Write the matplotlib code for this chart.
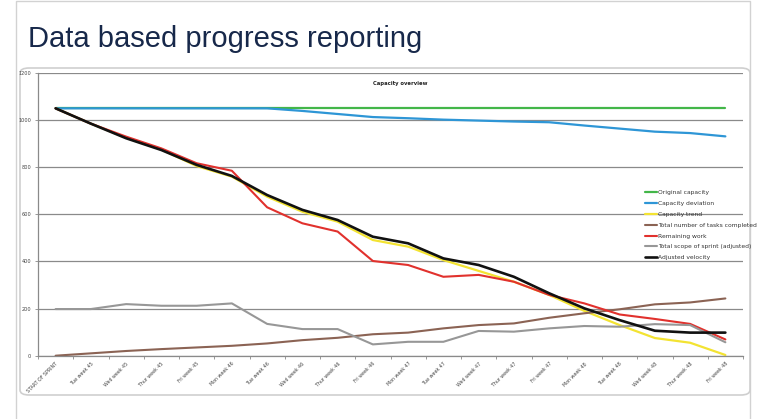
import matplotlib
matplotlib.use("Agg")
import matplotlib.pyplot as plt
from matplotlib.patches import FancyBboxPatch, Rectangle

categories = ["START OF SPRINT", "Tue week 45", "Wed week 45", "Thur week 45", "Fri week 45",
              "Mon week 46", "Tue week 46", "Wed week 46", "Thur week 46", "Fri week 46",
              "Mon week 47", "Tue week 47", "Wed week 47", "Thur week 47", "Fri week 47",
              "Mon week 48", "Tue week 48", "Wed week 48", "Thur week 48", "Fri week 48"]

original_capacity = [1050] * 20
capacity_deviation = [1050, 1050, 1050, 1050, 1050, 1050, 1050, 1039, 1026, 1013,
                      1008, 1002, 998, 994, 991, 977, 964, 951, 945, 931]
capacity_trend = [1050, 985, 925, 875, 805, 760, 675, 611, 569, 491,
                  463, 406, 360, 314, 258, 190, 130, 75, 55, 3]
tasks_completed = [0, 10, 20, 28, 35, 42, 52, 66, 76, 91,
                   98, 116, 130, 137, 161, 180, 197, 218, 226, 243]
remaining_work = [1050, 985, 930, 880, 817, 785, 630, 562, 527, 402,
                  385, 335, 343, 314, 258, 222, 175, 156, 135, 69]
total_scope = [198, 198, 219, 212, 212, 222, 135, 113, 113, 48,
               59, 59, 105, 102, 116, 126, 123, 134, 130, 57]
adjusted_velocity = [1050, 985, 923, 873, 810, 763, 682, 619, 576, 505,
                     477, 413, 385, 335, 265, 201, 151, 106, 98, 98]

series = [
    ("Original capacity", original_capacity, "#43b649", 1.6),
    ("Capacity deviation", capacity_deviation, "#2e96d6", 1.6),
    ("Capacity trend", capacity_trend, "#f3e332", 1.6),
    ("Total number of tasks completed", tasks_completed, "#8b6354", 1.5),
    ("Remaining work", remaining_work, "#e1312d", 1.5),
    ("Total scope of sprint (adjusted)", total_scope, "#979797", 1.5),
    ("Adjusted velocity", adjusted_velocity, "#111111", 1.9),
]

W, H = 769, 419
fig = plt.figure(figsize=(W / 100, H / 100), dpi=100)
fig.patch.set_facecolor("white")

# slide frame lines
frame = Rectangle((16 / W, -0.01), (750 - 16) / W, (H - 1) / H + 0.01,
                  transform=fig.transFigure, fill=False,
                  edgecolor="#d2d2d2", linewidth=1.0, zorder=-2)
fig.add_artist(frame)
# chart box
box = FancyBboxPatch((20 / W, 1 - 395 / H), (750 - 20) / W, (395 - 68) / H,
                     boxstyle="round,pad=0,rounding_size=0.012",
                     transform=fig.transFigure, facecolor="white",
                     edgecolor="#cfcfcf", linewidth=1.2, zorder=-1)
fig.add_artist(box)

fig.text(28 / W, 1 - 47 / H, "Data based progress reporting", fontsize=21,
         family="Liberation Sans", color="#17284a", ha="left", va="baseline")

ax = fig.add_axes([38 / W, 1 - 355.7 / H, (743 - 38) / W, (355.7 - 73) / H])
ax.set_facecolor("none")
ax.set_zorder(1)

x = list(range(len(categories)))
for name, vals, col, lw in series:
    ax.plot(x, vals, color=col, linewidth=lw, label=name, solid_joinstyle="round",
            solid_capstyle="round")

ax.set_xlim(-0.5, len(categories) - 0.5)
ax.set_ylim(0, 1200)
ax.set_yticks(range(0, 1201, 200))
ax.set_yticklabels([str(v) for v in range(0, 1201, 200)], fontsize=3.6, color="#444444")
ax.yaxis.grid(True, color="#8a8a8a", linewidth=0.9)
ax.set_axisbelow(True)

ax.set_xticks(x)
ax.set_xticklabels(categories, rotation=45, ha="right", va="top",
                   rotation_mode="anchor", fontsize=3.4, color="#444444")
ax.set_xticks([i - 0.5 for i in range(len(categories) + 1)], minor=True)
ax.tick_params(axis="x", which="major", length=0, pad=4)
ax.tick_params(axis="x", which="minor", length=2, width=0.6, color="#888888")
ax.tick_params(axis="y", length=2, width=0.6, color="#888888", pad=3)

for s in ["top", "right"]:
    ax.spines[s].set_visible(False)
for s in ["left", "bottom"]:
    ax.spines[s].set_color("#8a8a8a")
    ax.spines[s].set_linewidth(0.9)

fig.text(400 / W, 1 - 84 / H, "Capacity overview", fontsize=3.8, fontweight="bold",
         ha="center", va="center", color="#222222")

leg = ax.legend(loc="upper left", bbox_to_anchor=(645 / W, 1 - 190 / H),
                bbox_transform=fig.transFigure,
                frameon=False, fontsize=4.3, handlelength=2.0, handletextpad=0.15,
                labelspacing=0.95, borderaxespad=0, borderpad=0)
for t in leg.get_texts():
    t.set_color("#333333")

fig.savefig("out.png", dpi=100, facecolor="white")
